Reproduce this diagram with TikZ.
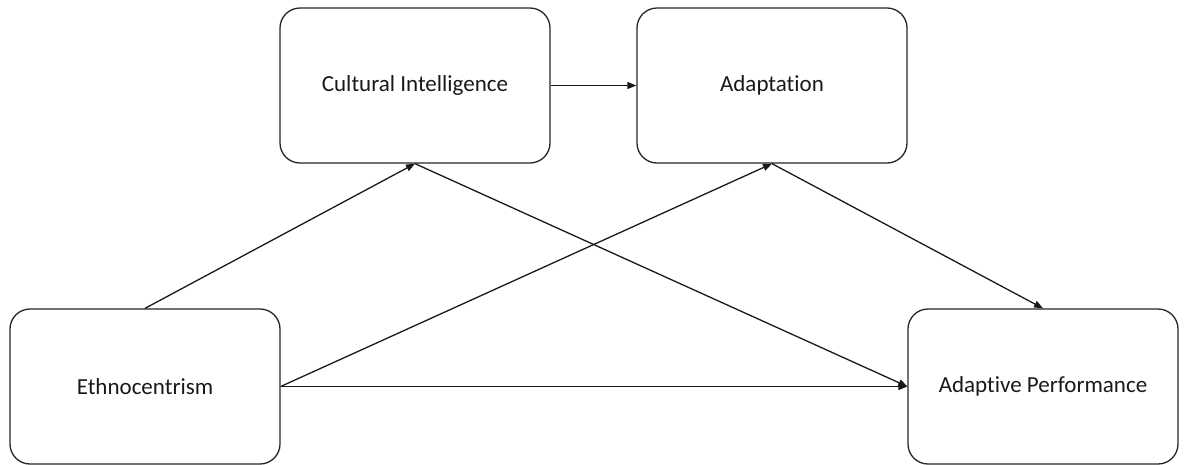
\documentclass[tikz,border=0pt]{standalone}
\usepackage{fontspec}
\setmainfont{Carlito}[Ligatures={NoCommon,NoRare}]
\usetikzlibrary{arrows.meta}
\begin{document}
\begin{tikzpicture}[x=1pt,y=-1pt,
  construct/.style={draw=black!85, line width=1.3pt, rounded corners=20pt,
    minimum width=270pt, minimum height=155pt, inner sep=0pt,
    font=\fontsize{23}{26}\selectfont, text=black!90},
  link/.style={draw=black!90, line width=1.3pt,
    -{Triangle[length=9pt,width=7pt]}}]
  \useasboundingbox (0,0) rectangle (1186,464);
  \node[construct] (ci)  at (415,85.5)  {Cultural Intelligence};
  \node[construct] (ad)  at (772,85.5)  {Adaptation};
  \node[construct] (eth) at (145,386.5) {Ethnocentrism};
  \node[construct] (ap)  at (1043,386.5) {Adaptive Performance};
  \draw[link] (ci.east) -- (ad.west);
  \draw[link] (eth.north) -- (ci.south);
  \draw[link] (eth.east) -- (ad.south);
  \draw[link] (eth.east) -- (ap.west);
  \draw[link] (ci.south) -- (ap.west);
  \draw[link] (ad.south) -- (ap.north);
\end{tikzpicture}
\end{document}
